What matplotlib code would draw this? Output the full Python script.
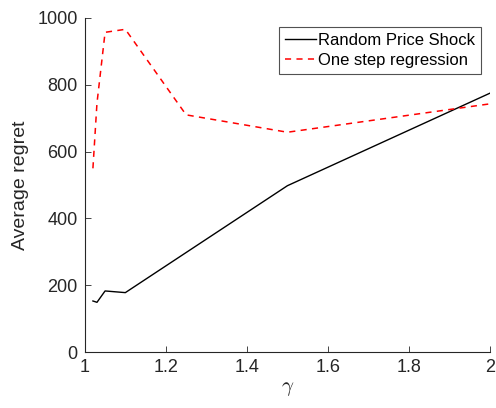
import matplotlib
matplotlib.use("Agg")
import matplotlib.pyplot as plt

plt.rcParams['font.family'] = ['Liberation Sans', 'DejaVu Sans']
plt.rcParams['mathtext.fontset'] = 'cm'

gamma = [1.02, 1.03, 1.05, 1.1, 1.25, 1.5, 2.0]
random_shock = [153, 149, 183, 178, 298, 498, 775]
one_step = [550, 745, 957, 966, 710, 658, 743]

fig = plt.figure(figsize=(4.96, 4.08), dpi=100)
ax = fig.add_axes([0.171, 0.137, 0.817, 0.819])

ax.plot(gamma, random_shock, color='black', lw=1.0, label='Random Price Shock')
ax.plot(gamma, one_step, color='red', lw=1.1, ls=(0, (4, 3.5)), label='One step regression')

ax.set_xlim(1, 2)
ax.set_ylim(0, 1000)
ax.set_xticks([1, 1.2, 1.4, 1.6, 1.8, 2])
ax.set_xticklabels(['1', '1.2', '1.4', '1.6', '1.8', '2'])
ax.set_yticks([0, 200, 400, 600, 800, 1000])
ax.tick_params(direction='in', labelsize=13, colors='0.15', length=4, width=0.6, pad=5)
for s in ['top', 'right']:
    ax.spines[s].set_visible(False)
for s in ['left', 'bottom']:
    ax.spines[s].set_color('0.15')
    ax.spines[s].set_linewidth(0.8)

ax.set_xlabel(r'$\gamma$', fontsize=15, color='0.15', labelpad=2)
ax.set_ylabel('Average regret', fontsize=14, color='0.15', labelpad=6)

leg = ax.legend(loc='upper right', fontsize=12, frameon=True, fancybox=False,
                handlelength=1.9, handletextpad=0.1, borderpad=0.35, labelspacing=0.3,
                borderaxespad=0.55)
leg.get_frame().set_edgecolor('0.15')
leg.get_frame().set_linewidth(0.8)

fig.savefig('out.png', dpi=100)
